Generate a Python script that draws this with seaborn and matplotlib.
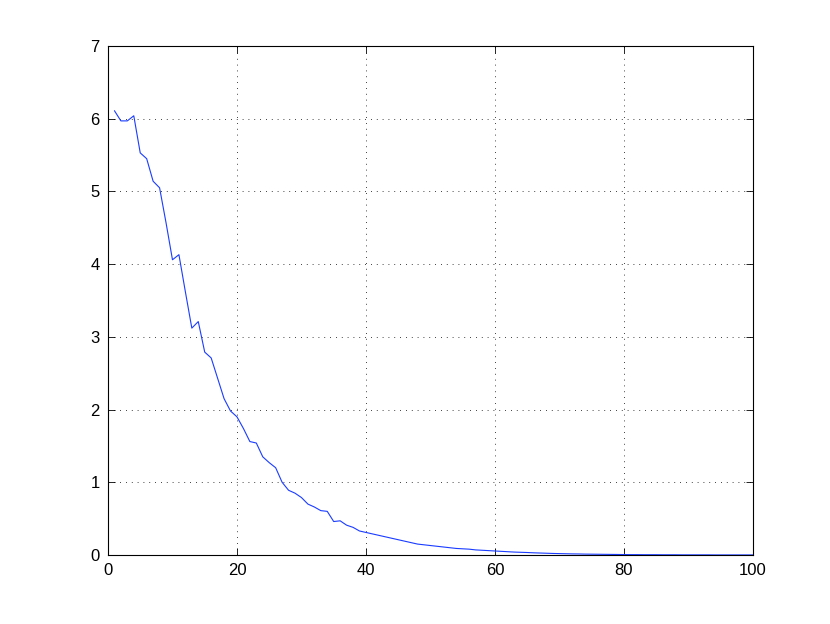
import numpy as np
import pandas as pd
import matplotlib
matplotlib.use("Agg")
import matplotlib.pyplot as plt
import seaborn as sns

# --- data ---
iterations = list(range(1, 101))
values = [
    6.11, 5.97, 5.97, 6.04, 5.53, 5.45, 5.14, 5.05, 4.57, 4.06,
    4.13, 3.62, 3.12, 3.21, 2.79, 2.71, 2.43, 2.15, 1.98, 1.90,
    1.74, 1.56, 1.54, 1.35, 1.27, 1.20, 1.00, 0.89, 0.85, 0.79,
    0.70, 0.66, 0.61, 0.60, 0.46, 0.47, 0.41, 0.38, 0.33, 0.31,
    0.29, 0.27, 0.25, 0.23, 0.21, 0.19, 0.17, 0.15, 0.14, 0.13,
    0.12, 0.11, 0.10, 0.09, 0.085, 0.08, 0.07, 0.065, 0.06, 0.055,
    0.05, 0.045, 0.04, 0.037, 0.034, 0.03, 0.027, 0.024, 0.021, 0.019,
    0.017, 0.015, 0.014, 0.012, 0.011, 0.010, 0.009, 0.008, 0.007, 0.006,
    0.005, 0.005, 0.004, 0.004, 0.004, 0.003, 0.003, 0.003, 0.002, 0.002,
    0.002, 0.002, 0.002, 0.001, 0.001, 0.001, 0.001, 0.001, 0.001, 0.001,
]
x_ticks = [0, 20, 40, 60, 80, 100]
y_ticks = [0, 1, 2, 3, 4, 5, 6, 7]

df = pd.DataFrame({"x": iterations, "y": values})

sns.set_style("white")
plt.rcParams["font.family"] = ["Liberation Sans", "DejaVu Sans"]

fig = plt.figure(figsize=(8.3, 6.24), dpi=100)
ax = fig.add_axes([0.1301, 0.1106, 0.777, 0.8157])

sns.lineplot(data=df, x="x", y="y", color="#1a3cff", linewidth=0.8, ax=ax)

ax.set_xlim(0, 100)
ax.set_ylim(0, 7)
ax.set_xticks(x_ticks)
ax.set_yticks(y_ticks)
ax.set_xlabel("")
ax.set_ylabel("")
ax.grid(True, color="black", linestyle=(0, (1, 6)), linewidth=0.6)
ax.tick_params(direction="in", length=5, width=0.6, labelsize=12,
               labelcolor="black", color="black",
               top=True, right=True, bottom=True, left=True, pad=6)
for s in ax.spines.values():
    s.set_visible(True)
    s.set_color("black")
    s.set_linewidth(0.8)

fig.savefig("out.png", dpi=100)
